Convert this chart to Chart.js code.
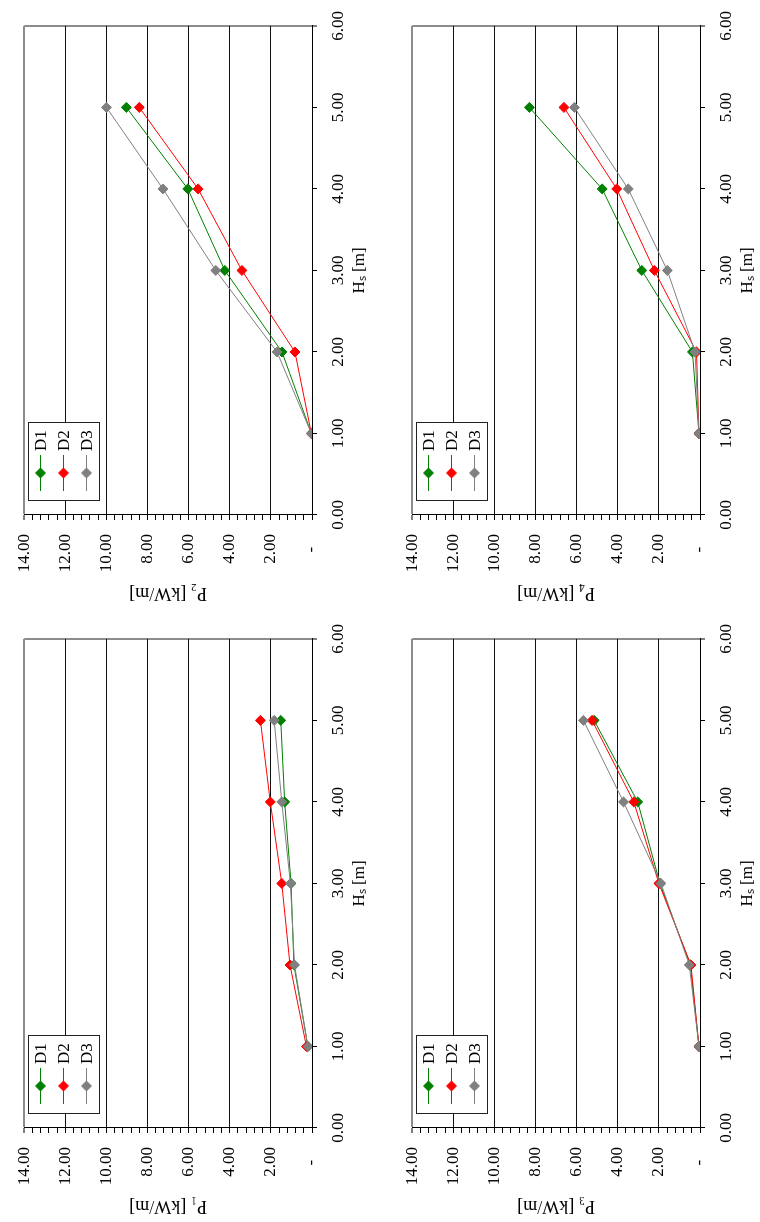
<!DOCTYPE html>
<html>
<head>
<meta charset="utf-8">
<script src="https://cdn.jsdelivr.net/npm/chart.js@4.4.0/dist/chart.umd.min.js"></script>
<style>
html,body{margin:0;padding:0;background:#fff;overflow:hidden;width:760px;height:1222px;}
#wrap{position:absolute;left:0;top:0;width:1222px;height:760px;transform-origin:0 0;transform:translate(0px,1222px) rotate(-90deg);background:#fff;}
#wrap canvas{position:absolute;}
</style>
</head>
<body>
<div id="wrap">
<canvas id="c1" width="609" height="372" style="left:0px;top:0px"></canvas>
<canvas id="c2" width="609" height="372" style="left:613px;top:0px"></canvas>
<canvas id="c3" width="609" height="372" style="left:0px;top:388px"></canvas>
<canvas id="c4" width="609" height="372" style="left:613px;top:388px"></canvas>
</div>
<script>
// ---- data ----
const hs = [1, 2, 3, 4, 5];
const seriesNames = ['D1', 'D2', 'D3'];
const xTickLabels = ['0.00', '1.00', '2.00', '3.00', '4.00', '5.00', '6.00'];
const yTickLabels = ['-   ', '2.00', '4.00', '6.00', '8.00', '10.00', '12.00', '14.00'];
const xTitle = 'Hₛ [m]';
const yTitles = ['P₁ [kW/m]', 'P₂ [kW/m]', 'P₃ [kW/m]', 'P₄ [kW/m]'];

const p1D1 = [0.20, 0.88, 1.02, 1.33, 1.52];
const p1D2 = [0.27, 1.07, 1.47, 2.03, 2.51];
const p1D3 = [0.20, 0.85, 1.05, 1.47, 1.84];

const p2D1 = [0.03, 1.46, 4.24, 6.04, 9.03];
const p2D2 = [0.03, 0.83, 3.41, 5.54, 8.40];
const p2D3 = [0.03, 1.70, 4.68, 7.25, 10.00];

const p3D1 = [0.05, 0.47, 1.95, 3.03, 5.15];
const p3D2 = [0.05, 0.44, 2.00, 3.22, 5.25];
const p3D3 = [0.05, 0.52, 1.90, 3.72, 5.67];

const p4D1 = [0.05, 0.37, 2.83, 4.76, 8.30];
const p4D2 = [0.05, 0.17, 2.22, 4.05, 6.62];
const p4D3 = [0.05, 0.24, 1.59, 3.49, 6.11];

// ---- styles ----
const FONT = '"Liberation Serif", "Times New Roman", serif';
const COLORS = ['#008000', '#ff0000', '#808080'];
const GRID = '#111111';
const FRAME = '#8c8c8c';

const isMajor = v => Math.abs(v / 2 - Math.round(v / 2)) < 1e-6;

const legendBox = {
  id: 'legendBox',
  afterDraw(chart) {
    const ctx = chart.ctx, a = chart.chartArea;
    const x = Math.round(a.left + 14), y = Math.round(a.top + 4), w = 79, h = 72;
    ctx.save();
    ctx.fillStyle = '#fff';
    ctx.fillRect(x, y, w, h);
    ctx.strokeStyle = '#222';
    ctx.lineWidth = 1;
    ctx.strokeRect(x + 0.5, y + 0.5, w - 1, h - 1);
    chart.data.datasets.forEach((ds, i) => {
      const cy = Math.round(y + 12 + i * 23) + 0.5;
      const cx = x + 28;
      ctx.strokeStyle = ds.borderColor;
      ctx.lineWidth = 1;
      ctx.beginPath();
      ctx.moveTo(x + 10, cy);
      ctx.lineTo(x + 46, cy);
      ctx.stroke();
      ctx.fillStyle = ds.borderColor;
      ctx.beginPath();
      ctx.moveTo(cx - 5, cy);
      ctx.lineTo(cx, cy - 5);
      ctx.lineTo(cx + 5, cy);
      ctx.lineTo(cx, cy + 5);
      ctx.closePath();
      ctx.fill();
      ctx.stroke();
      ctx.fillStyle = '#000';
      ctx.font = '17px ' + FONT;
      ctx.textBaseline = 'middle';
      ctx.textAlign = 'left';
      ctx.fillText(ds.label, x + 50, cy + 1);
    });
    ctx.restore();
  }
};

function makeChart(id, yTitle, series) {
  return new Chart(document.getElementById(id), {
    type: 'line',
    data: {
      datasets: seriesNames.map((name, i) => ({
        label: name,
        data: hs.map((h, j) => ({ x: h, y: series[i][j] })),
        borderColor: COLORS[i],
        backgroundColor: COLORS[i],
        borderWidth: 1,
        pointStyle: 'rectRot',
        pointRadius: 5,
        pointHoverRadius: 5,
        pointBorderWidth: 1,
        pointBackgroundColor: COLORS[i],
        pointBorderColor: COLORS[i],
        tension: 0,
        fill: false,
        order: 2 - i
      }))
    },
    options: {
      responsive: false,
      animation: false,
      events: [],
      layout: { padding: { top: 20, right: 23, bottom: 2, left: 0 } },
      plugins: { legend: { display: false }, tooltip: { enabled: false }, title: { display: false } },
      scales: {
        x: {
          type: 'linear', position: 'bottom', min: 0, max: 6,
          afterFit: s => { s.height = 58; },
          ticks: {
            stepSize: 1, autoSkip: false, maxRotation: 0, minRotation: 0, padding: 11,
            color: '#000', font: { family: FONT, size: 17 },
            callback: v => xTickLabels[Math.round(v)]
          },
          grid: {
            color: c => (c.tick && Math.abs(c.tick.value - 6) < 1e-6) ? FRAME : 'rgba(0,0,0,0)',
            lineWidth: c => (c.tick && Math.abs(c.tick.value - 6) < 1e-6) ? 2 : 1,
            tickColor: '#000', tickLength: 5, tickWidth: 1
          },
          border: { display: true, color: '#000', width: 1 },
          title: { display: true, text: xTitle, color: '#000', font: { family: FONT, size: 17 }, padding: { top: 0, bottom: 0 } }
        },
        y: {
          type: 'linear', position: 'left', min: 0, max: 14,
          afterFit: s => { s.width = 94; },
          ticks: {
            stepSize: 0.4, maxTicksLimit: 100, autoSkip: false, padding: 14,
            color: '#000', font: { family: FONT, size: 17 },
            callback: v => isMajor(v) ? yTickLabels[Math.round(v / 2)] : ''
          },
          grid: {
            color: c => {
              const v = c.tick ? c.tick.value : 0;
              if (Math.abs(v - 14) < 1e-6) return FRAME;
              return (v > 0.01 && isMajor(v)) ? GRID : 'rgba(0,0,0,0)';
            },
            lineWidth: c => (c.tick && Math.abs(c.tick.value - 14) < 1e-6) ? 2 : 1,
            tickColor: '#000', tickLength: 5, tickWidth: 1
          },
          border: { display: true, color: '#000', width: 1 },
          title: { display: true, text: yTitle, color: '#000', font: { family: FONT, size: 18 }, padding: { top: 5, bottom: 0 } }
        }
      }
    },
    plugins: [legendBox]
  });
}

makeChart('c1', yTitles[0], [p1D1, p1D2, p1D3]);
makeChart('c2', yTitles[1], [p2D1, p2D2, p2D3]);
makeChart('c3', yTitles[2], [p3D1, p3D2, p3D3]);
makeChart('c4', yTitles[3], [p4D1, p4D2, p4D3]);
</script>
</body>
</html>
